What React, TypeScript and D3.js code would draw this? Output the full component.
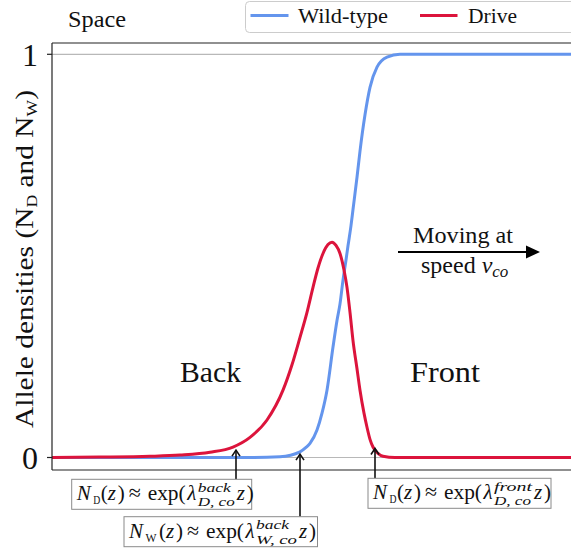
import React from "react";
import * as d3 from "d3";

// ---- data (space coordinate z, allele density) ----
const zWild = [0, 198, 228, 248, 254, 258, 265, 270, 275, 281, 285, 288, 291, 294, 296, 299, 301, 305, 308, 313, 318, 325, 335, 348, 540];
const nWild = [0, 0, 0.002, 0.014, 0.025, 0.035, 0.068, 0.11, 0.167, 0.274, 0.34, 0.381, 0.44, 0.49, 0.525, 0.575, 0.615, 0.695, 0.76, 0.85, 0.918, 0.968, 0.993, 1, 1];

const zDrive = [0, 48, 98, 128, 158, 181, 198, 215, 231, 240, 248, 255, 261, 266, 271, 276, 280, 284, 288, 292, 295, 298, 301, 305, 308, 312, 315, 318, 321, 326, 331, 343, 540];
const nDrive = [0, 0.001, 0.003, 0.006, 0.013, 0.026, 0.05, 0.093, 0.167, 0.23, 0.298, 0.36, 0.422, 0.47, 0.506, 0.528, 0.534, 0.526, 0.506, 0.465, 0.422, 0.36, 0.29, 0.22, 0.167, 0.11, 0.075, 0.045, 0.026, 0.01, 0.003, 0, 0];

const yTicks = [0, 1];
const yTickLabels = ["0", "1"];
const legendLabels = ["Wild-type", "Drive"];
const regionLabels = ["Back", "Front"];
const regionZ = [128, 358];

// annotation arrows: z position and density at the tip
const annZ = [184, 248, 323];
const annTip = [0.022, 0.012, 0.026];

const FONT = "Liberation Serif, DejaVu Serif, serif";
const BLUE = "#6495ED";
const RED = "#DC143C";

type Piece = { t: string; x: number; dy?: number; size?: number; it?: boolean; w?: number };

function MathBox({ left, top, width, pieces }: { left: number; top: number; width: number; pieces: Piece[] }) {
  const base = top + 21;
  return (
    <g>
      <rect x={left} y={top} width={width} height={30} fill="white" stroke="#8a8a8a" strokeWidth={1} />
      {pieces.map((p, i) => (
        <text
          key={i}
          x={left + p.x}
          y={base + (p.dy || 0)}
          fontSize={p.size || 21}
          fontStyle={p.it ? "italic" : "normal"}
          fontFamily={FONT}
          fill="#111"
          {...(p.w ? { textLength: p.w, lengthAdjust: "spacingAndGlyphs" } : {})}
        >
          {p.t}
        </text>
      ))}
    </g>
  );
}

function eqPieces(sub: string, sup: string, scr: string, wide: boolean): Piece[] {
  const s = wide ? 6 : 0;
  const supW = sup === "front" ? 38 : 33;
  const scrW = wide ? 41 : 37;
  const zx = 126 + s + Math.max(supW, scrW) + 2;
  return [
    { t: "N", x: 5, it: true },
    { t: sub, x: 21.5, dy: 4, size: 12, w: wide ? 11 : 7 },
    { t: "(", x: 29 + s },
    { t: "z", x: 36 + s, it: true },
    { t: ")", x: 46 + s },
    { t: "≈", x: 57 + s, size: 22 },
    { t: "exp(", x: 76 + s, w: 38 },
    { t: "λ", x: 115.5 + s, it: true },
    { t: sup, x: 126 + s, dy: -8.5, size: 13, it: true, w: supW },
    { t: scr, x: 126 + s, dy: 6, size: 13, it: true, w: scrW },
    { t: "z", x: zx, it: true },
    { t: ")", x: zx + 10 },
  ];
}

export default function App() {
  const x = d3.scaleLinear().domain([0, 540]).range([52, 592]);
  const y = d3.scaleLinear().domain([0, 1]).range([457.5, 54.3]);
  const line = d3
    .line<[number, number]>()
    .x((d) => x(d[0]))
    .y((d) => y(d[1]))
    .curve(d3.curveMonotoneX);

  const wild = line(zWild.map((z, i) => [z, nWild[i]] as [number, number])) || "";
  const drive = line(zDrive.map((z, i) => [z, nDrive[i]] as [number, number])) || "";

  const frameTop = 43;
  const frameBottom = 470;
  const frameLeft = 52;

  const boxes = [
    { left: 71.7, top: 479.3, width: 180, pieces: eqPieces("D", "back", "D, co", false) },
    { left: 124, top: 516.7, width: 193.5, pieces: eqPieces("W", "back", "W, co", true) },
    { left: 368, top: 478.3, width: 183, pieces: eqPieces("D", "front", "D, co", false) },
  ];

  return (
    <div style={{ position: "fixed", left: 0, top: 0 }}>
      <svg width={571} height={553} style={{ display: "block", background: "white" }}>
        {/* grid lines */}
        {yTicks.map((t) => (
          <line key={"g" + t} x1={frameLeft} x2={600} y1={y(t)} y2={y(t)} stroke="#b8b8b8" strokeWidth={1.2} />
        ))}
        {/* curves */}
        <path d={wild} fill="none" stroke={BLUE} strokeWidth={3} />
        <path d={drive} fill="none" stroke={RED} strokeWidth={3} />
        {/* frame */}
        <line x1={frameLeft} x2={600} y1={frameTop} y2={frameTop} stroke="#222" strokeWidth={1.2} />
        <line x1={frameLeft} x2={600} y1={frameBottom} y2={frameBottom} stroke="#222" strokeWidth={1.2} />
        <line x1={frameLeft} x2={frameLeft} y1={frameTop} y2={frameBottom} stroke="#222" strokeWidth={1.2} />
        {/* ticks */}
        {yTicks.map((t, i) => (
          <g key={"t" + t}>
            <line x1={frameLeft - 5} x2={frameLeft} y1={y(t)} y2={y(t)} stroke="#222" strokeWidth={1.2} />
            <text x={38} y={y(t) + 11.5} textAnchor="end" fontSize={32} fontFamily={FONT} fill="#111">
              {yTickLabels[i]}
            </text>
          </g>
        ))}
        {/* y label */}
        <text
          transform="translate(32.5,259) rotate(-90)"
          textAnchor="middle"
          fontSize={25}
          fontFamily={FONT}
          fill="#111"
          textLength={338}
          lengthAdjust="spacingAndGlyphs"
        >
          Allele densities (N
          <tspan fontSize={15} dy={4}>D</tspan>
          <tspan dy={-4}> and N</tspan>
          <tspan fontSize={15} dy={4}>W</tspan>
          <tspan dy={-4}>)</tspan>
        </text>
        {/* Space title */}
        <text x={68} y={27} fontSize={24} fontFamily={FONT} fill="#111" textLength={58} lengthAdjust="spacingAndGlyphs">
          Space
        </text>
        {/* legend */}
        <rect x={245.5} y={1.5} width={340} height={31} rx={4} fill="white" fillOpacity={0.85} stroke="#cccccc" strokeWidth={1} />
        <line x1={250.5} x2={288.5} y1={15.5} y2={15.5} stroke={BLUE} strokeWidth={3} />
        <text x={298} y={23.3} fontSize={22} fontFamily={FONT} fill="#111" textLength={90} lengthAdjust="spacingAndGlyphs">
          {legendLabels[0]}
        </text>
        <line x1={420} x2={457.5} y1={15.5} y2={15.5} stroke={RED} strokeWidth={3} />
        <text x={468} y={23.3} fontSize={22} fontFamily={FONT} fill="#111" textLength={49} lengthAdjust="spacingAndGlyphs">
          {legendLabels[1]}
        </text>
        {/* region labels */}
        <text x={x(regionZ[0])} y={382} fontSize={29} fontFamily={FONT} fill="#111" textLength={61} lengthAdjust="spacingAndGlyphs">
          {regionLabels[0]}
        </text>
        <text x={x(regionZ[1])} y={382} fontSize={29} fontFamily={FONT} fill="#111" textLength={70} lengthAdjust="spacingAndGlyphs">
          {regionLabels[1]}
        </text>
        {/* moving arrow */}
        <text x={413} y={243} fontSize={24} fontFamily={FONT} fill="#111" textLength={100} lengthAdjust="spacingAndGlyphs">
          Moving at
        </text>
        <line x1={398} x2={530} y1={252} y2={252} stroke="#000" strokeWidth={2} />
        <polygon points="540,252 526,245.5 526,258.5" fill="#000" />
        <text x={421} y={273} fontSize={24} fontFamily={FONT} fill="#111">
          speed <tspan fontStyle="italic">v</tspan>
          <tspan fontStyle="italic" fontSize={17} dy={4}>co</tspan>
        </text>
        {/* annotation arrows */}
        {annZ.map((z, i) => {
          const ax = x(z);
          const tipY = y(annTip[i]) + 1.5;
          const bottom = boxes[i].top;
          return (
            <g key={"a" + i} stroke="#111" strokeWidth={1.6} fill="none">
              <line x1={ax} x2={ax} y1={bottom} y2={tipY} />
              <polyline points={`${ax - 4},${tipY + 6} ${ax},${tipY} ${ax + 4},${tipY + 6}`} />
            </g>
          );
        })}
        {boxes.map((b, i) => (
          <MathBox key={"b" + i} left={b.left} top={b.top} width={b.width} pieces={b.pieces} />
        ))}
      </svg>
    </div>
  );
}
